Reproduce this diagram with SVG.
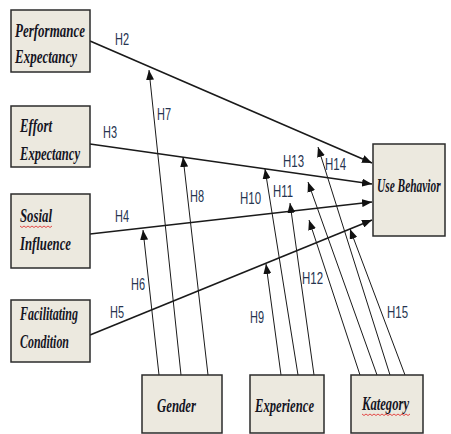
<svg xmlns="http://www.w3.org/2000/svg" width="451" height="434" viewBox="0 0 451 434">
  <style>
    .box { fill: #ECE9DF; stroke: #2b2b2b; stroke-width: 1.5; }
    .name { font-family: "Liberation Serif", "Times New Roman", serif; font-style: italic; font-weight: bold; font-size: 19px; fill: #15151f; }
    .hyp { font-family: "Liberation Sans", Arial, sans-serif; font-size: 17px; fill: #26344f; }
    .main { stroke: #1a1a1a; stroke-width: 1.6; fill: none; marker-end: url(#arrow); }
    .mod { stroke: #1a1a1a; stroke-width: 1; fill: none; marker-end: url(#arrow); }
    .squiggle { stroke: #e02020; stroke-width: 0.8; fill: none; }
  </style>
  <defs>
    <marker id="arrow" markerUnits="userSpaceOnUse" markerWidth="10" markerHeight="8" refX="10" refY="4" orient="auto">
      <path d="M0,0 L10,4 L0,8 z" fill="#111"/>
    </marker>
  </defs>

  <!-- connectors -->
  <g id="connectors">
    <!-- direct paths to Use Behavior -->
    <line class="main" x1="90" y1="41" x2="372" y2="163"/>
    <line class="main" x1="90" y1="144" x2="372" y2="184"/>
    <line class="main" x1="90" y1="234" x2="372" y2="202"/>
    <line class="main" x1="90" y1="335" x2="372" y2="220"/>
    <!-- moderator: Gender -->
    <line class="mod" x1="159" y1="375" x2="143" y2="230"/>
    <line class="mod" x1="181" y1="375" x2="149" y2="70"/>
    <line class="mod" x1="208" y1="375" x2="183" y2="157"/>
    <!-- moderator: Experience -->
    <line class="mod" x1="281" y1="375" x2="266" y2="264"/>
    <line class="mod" x1="298" y1="375" x2="265" y2="169"/>
    <line class="mod" x1="314" y1="375" x2="290" y2="203"/>
    <!-- moderator: Kategory -->
    <line class="mod" x1="360" y1="375" x2="309" y2="220"/>
    <line class="mod" x1="377" y1="375" x2="308" y2="182"/>
    <line class="mod" x1="390" y1="375" x2="318" y2="147"/>
    <line class="mod" x1="405" y1="375" x2="350" y2="229"/>
  </g>

  <!-- hypothesis labels -->
  <g id="labels">
    <text class="hyp" x="115" y="45" textLength="14" lengthAdjust="spacingAndGlyphs">H2</text>
    <text class="hyp" x="103" y="138" textLength="14" lengthAdjust="spacingAndGlyphs">H3</text>
    <text class="hyp" x="115" y="222" textLength="14" lengthAdjust="spacingAndGlyphs">H4</text>
    <text class="hyp" x="110" y="318" textLength="14" lengthAdjust="spacingAndGlyphs">H5</text>
    <text class="hyp" x="131" y="290" textLength="14" lengthAdjust="spacingAndGlyphs">H6</text>
    <text class="hyp" x="157" y="120" textLength="14" lengthAdjust="spacingAndGlyphs">H7</text>
    <text class="hyp" x="190" y="202" textLength="14" lengthAdjust="spacingAndGlyphs">H8</text>
    <text class="hyp" x="250" y="323" textLength="14" lengthAdjust="spacingAndGlyphs">H9</text>
    <text class="hyp" x="240" y="204" textLength="21" lengthAdjust="spacingAndGlyphs">H10</text>
    <text class="hyp" x="273" y="197" textLength="20" lengthAdjust="spacingAndGlyphs">H11</text>
    <text class="hyp" x="302" y="284" textLength="21" lengthAdjust="spacingAndGlyphs">H12</text>
    <text class="hyp" x="283" y="167" textLength="21" lengthAdjust="spacingAndGlyphs">H13</text>
    <text class="hyp" x="325" y="170" textLength="21" lengthAdjust="spacingAndGlyphs">H14</text>
    <text class="hyp" x="387" y="318" textLength="21" lengthAdjust="spacingAndGlyphs">H15</text>
  </g>

  <!-- constructs -->
  <g id="performance-expectancy">
    <rect class="box" x="11" y="10" width="79" height="62"/>
    <text class="name" x="15" y="37" textLength="70" lengthAdjust="spacingAndGlyphs">Performance</text>
    <text class="name" x="15" y="63" textLength="62" lengthAdjust="spacingAndGlyphs">Expectancy</text>
  </g>
  <g id="effort-expectancy">
    <rect class="box" x="11" y="106" width="79" height="61"/>
    <text class="name" x="20" y="132" textLength="32" lengthAdjust="spacingAndGlyphs">Effort</text>
    <text class="name" x="20" y="160" textLength="60" lengthAdjust="spacingAndGlyphs">Expectancy</text>
  </g>
  <g id="sosial-influence">
    <rect class="box" x="11" y="194" width="79" height="74"/>
    <text class="name" x="20" y="222" textLength="32" lengthAdjust="spacingAndGlyphs">Sosial</text>
    <path class="squiggle" d="M20,226 l2,1.5 l2,-1.5 l2,1.5 l2,-1.5 l2,1.5 l2,-1.5 l2,1.5 l2,-1.5 l2,1.5 l2,-1.5 l2,1.5 l2,-1.5 l2,1.5 l2,-1.5 l2,1.5 l2,-1.5"/>
    <text class="name" x="20" y="250" textLength="51" lengthAdjust="spacingAndGlyphs">Influence</text>
  </g>
  <g id="facilitating-condition">
    <rect class="box" x="11" y="300" width="79" height="62"/>
    <text class="name" x="20" y="320" textLength="58" lengthAdjust="spacingAndGlyphs">Facilitating</text>
    <text class="name" x="20" y="348" textLength="49" lengthAdjust="spacingAndGlyphs">Condition</text>
  </g>
  <g id="use-behavior">
    <rect class="box" x="373" y="144" width="72" height="92"/>
    <!-- horizontally condensed label kept inside the box -->
    <text class="name" transform="translate(377,192) scale(0.6,1)">Use Behavior</text>
  </g>
  <g id="gender">
    <rect class="box" x="142" y="375" width="80" height="58"/>
    <text class="name" x="157" y="412" textLength="39" lengthAdjust="spacingAndGlyphs">Gender</text>
  </g>
  <g id="experience">
    <rect class="box" x="250" y="375" width="74" height="58"/>
    <text class="name" x="255" y="412" textLength="59" lengthAdjust="spacingAndGlyphs">Experience</text>
  </g>
  <g id="kategory">
    <rect class="box" x="351" y="375" width="72" height="58"/>
    <text class="name" x="362" y="410" textLength="47" lengthAdjust="spacingAndGlyphs">Kategory</text>
    <path class="squiggle" d="M362,414 l2,1.5 l2,-1.5 l2,1.5 l2,-1.5 l2,1.5 l2,-1.5 l2,1.5 l2,-1.5 l2,1.5 l2,-1.5 l2,1.5 l2,-1.5 l2,1.5 l2,-1.5 l2,1.5 l2,-1.5 l2,1.5 l2,-1.5 l2,1.5 l2,-1.5 l2,1.5 l2,-1.5 l2,1.5 l2,-1.5"/>
  </g>
</svg>
